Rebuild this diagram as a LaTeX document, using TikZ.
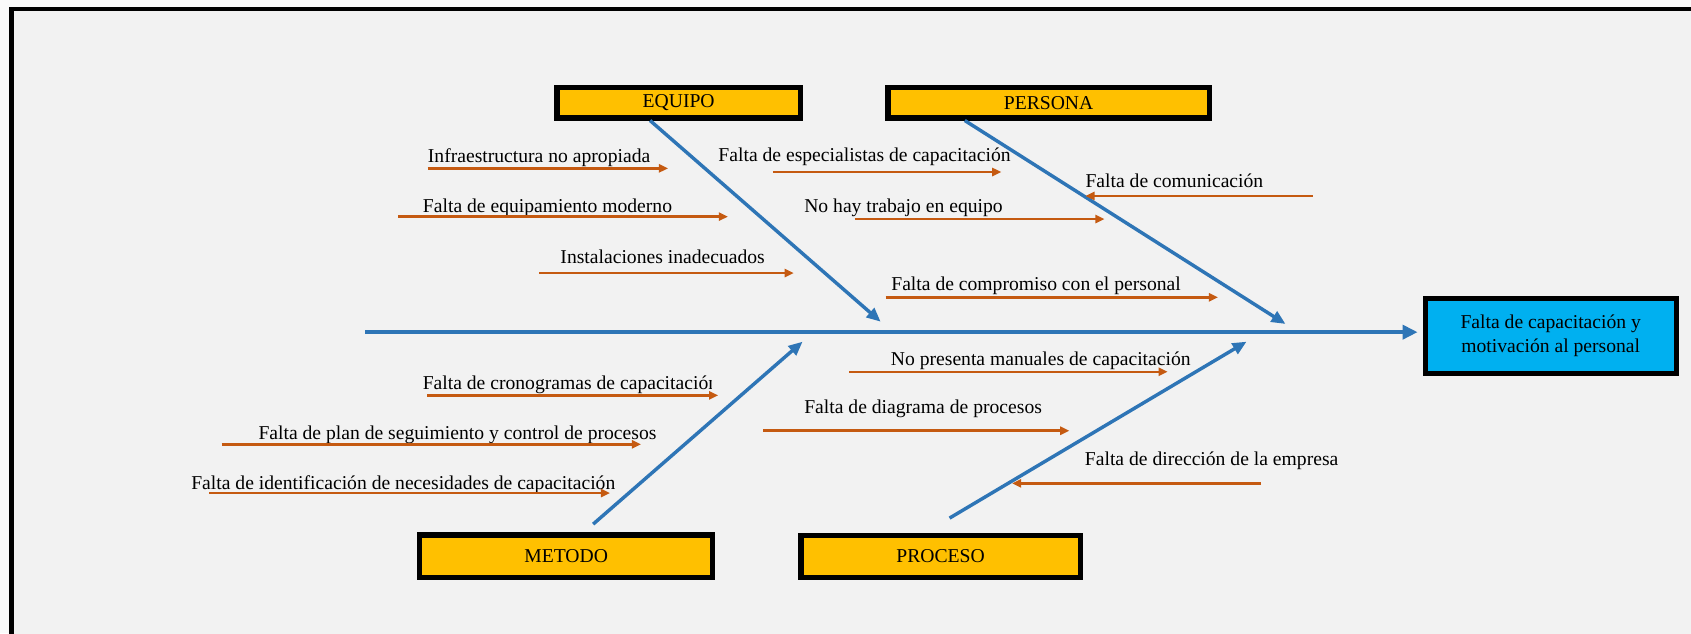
\documentclass[tikz,border=0pt]{standalone}
\usepackage{fontspec}
\setmainfont{Liberation Serif}
\usetikzlibrary{arrows.meta}
\definecolor{bgout}{RGB}{250,250,250}
\definecolor{bgin}{RGB}{242,242,242}
\definecolor{boneblue}{RGB}{46,117,182}
\definecolor{causeorange}{RGB}{197,90,17}
\definecolor{catyellow}{RGB}{255,192,0}
\definecolor{effectcyan}{RGB}{0,176,240}
\begin{document}
\begin{tikzpicture}[x=1pt,y=-1pt,
  font=\fontsize{18.2}{22.9}\selectfont,
  catbox/.style={draw=black, line width=4.8pt, fill=catyellow, inner sep=0pt, text=black},
  effectbox/.style={draw=black, line width=4.6pt, fill=effectcyan, inner sep=0pt, align=center, text=black},
  causetext/.style={anchor=base west, inner sep=0pt, text=black},
  causearrow/.style={draw=causeorange, line width=2.3pt, -{Triangle[length=8.5pt,width=7.5pt]}},
  bone/.style={draw=boneblue, line width=3.2pt, -{Triangle[length=13pt,width=11pt]}},
  spine/.style={draw=boneblue, line width=4.3pt, -{Triangle[length=14pt,width=13pt]}}]
\useasboundingbox (0,0) rectangle (1568,587);
\clip (0,0) rectangle (1568,587);
\fill[bgout] (0,0) rectangle (1568,587);
\filldraw[fill=bgin, draw=black, line width=4.4pt] (10.7,8.3) rectangle (1600,620);

% category boxes and effect
\node[catbox, minimum width=225.7pt, minimum height=28.3pt] (equipo) at (629.3,95.2) {EQUIPO};
\node[catbox, minimum width=297.7pt, minimum height=28.3pt] (persona) at (972.3,95.2) {PERSONA};
\node[catbox, minimum width=271.8pt, minimum height=39.2pt] (metodo) at (525,515.6) {METODO};
\node[catbox, minimum width=258.8pt, minimum height=38.8pt] (proceso) at (872.2,515.8) {PROCESO};
\node[effectbox, minimum width=232.8pt, minimum height=69.6pt] (effect) at (1437.9,311.3) {\raisebox{-2pt}{Falta de capacitación y}\\\raisebox{-2pt}{motivación al personal}};

% spine
\coordinate (tail) at (338.9,308);
\draw[spine, shorten >=4.7pt] (tail) -- (tail -| effect.west);

% bones
\coordinate (eqfoot) at ([xshift=-26.5pt]equipo.south);
\coordinate (perfoot) at ([xshift=-77.7pt]persona.south);
\coordinate (metfoot) at ([xshift=25pt,yshift=7.6pt]metodo.north);
\coordinate (profoot) at ([xshift=8.3pt,yshift=13.6pt]proceso.north);
\coordinate (eqtip) at (816.6,298.3);
\coordinate (pertip) at (1192,300.4);
\coordinate (mettip) at (744.2,316.8);
\coordinate (protip) at (1155.9,316.8);
\draw[bone] (eqfoot) -- (eqtip);
\draw[bone] (perfoot) -- (pertip);
\draw[bone] (metfoot) -- (mettip);
\draw[bone] (profoot) -- (protip);

% EQUIPO causes
\node[causetext] (c1) at (396.6,150.5) {Infraestructura no apropiada};
\coordinate (c1a) at (396.6,156.1); \coordinate (c1b) at (619.5,156.1);
\draw[causearrow] (c1a) -- (c1b);
\node[causetext] (c2) at (392,196.9) {Falta de equipamiento moderno};
\coordinate (c2a) at (369.3,200.9); \coordinate (c2b) at (675,200.9);
\draw[causearrow] (c2a) -- (c2b);
\node[causetext] (c3) at (519.5,244.2) {Instalaciones inadecuados};
\coordinate (c3a) at (500.1,253.2); \coordinate (c3b) at (736.1,253.2);
\draw[causearrow] (c3a) -- (c3b);

% PERSONA causes
\node[causetext] (c4) at (666,149.9) {Falta de especialistas de capacitación};
\coordinate (c4a) at (716.6,159.5); \coordinate (c4b) at (928.5,159.5);
\draw[causearrow] (c4a) -- (c4b);
\node[causetext] (c5) at (745.6,197.2) {No hay trabajo en equipo};
\coordinate (c5a) at (792.4,203.1); \coordinate (c5b) at (1024.2,203.1);
\draw[causearrow] (c5a) -- (c5b);
\node[causetext] (c6) at (826.3,268.9) {Falta de compromiso con el personal};
\coordinate (c6a) at (821.3,275.7); \coordinate (c6b) at (1129.4,275.7);
\draw[causearrow] (c6a) -- (c6b);
\node[causetext] (c7) at (1006.4,174) {Falta de comunicación};
\coordinate (c7a) at (1217.1,181.7); \coordinate (c7b) at (1006.4,181.7);
\draw[causearrow] (c7a) -- (c7b);

% METODO causes
\begin{scope}
\clip (380,330) rectangle (659.5,380);
\node[causetext] (c8) at (391.8,361.6) {Falta de cronogramas de capacitación};
\end{scope}
\coordinate (c8a) at (396,366.6); \coordinate (c8b) at (666,366.6);
\draw[causearrow] (c8a) -- (c8b);
\node[causetext] (c9) at (239.5,407.4) {Falta de plan de seguimiento y control de procesos};
\coordinate (c9a) at (205.5,412); \coordinate (c9b) at (594.4,412);
\draw[causearrow] (c9a) -- (c9b);
\node[causetext] (c10) at (177.2,453.8) {Falta de identificación de necesidades de capacitación};
\coordinate (c10a) at (194,457.2); \coordinate (c10b) at (565.7,457.2);
\draw[causearrow] (c10a) -- (c10b);

% PROCESO causes
\node[causetext] (c11) at (825.9,338.5) {No presenta manuales de capacitación};
\coordinate (c11a) at (787.6,344.7); \coordinate (c11b) at (1082.8,344.7);
\draw[causearrow] (c11a) -- (c11b);
\node[causetext] (c12) at (745.6,383.3) {Falta de diagrama de procesos};
\coordinate (c12a) at (707.7,399.4); \coordinate (c12b) at (991.6,399.4);
\draw[causearrow] (c12a) -- (c12b);
\node[causetext] (c13) at (1005.8,431.2) {Falta de dirección de la empresa};
\coordinate (c13a) at (1169.4,448.2); \coordinate (c13b) at (938.4,448.2);
\draw[causearrow] (c13a) -- (c13b);
\end{tikzpicture}
\end{document}
